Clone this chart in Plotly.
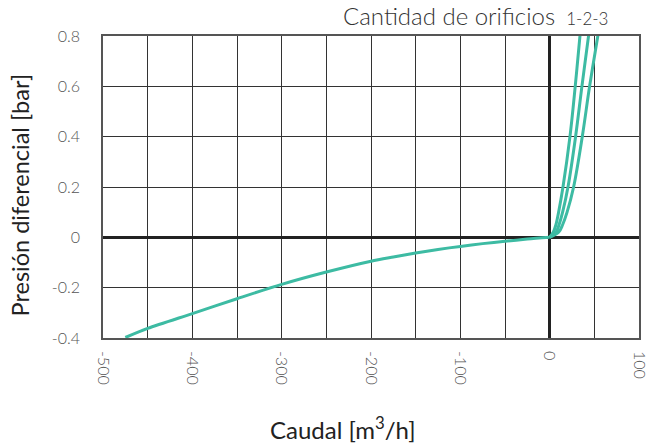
import plotly.graph_objects as go

# Negative flow branch
neg_x = [-475, -450, -400, -350, -300, -250, -200, -175, -150, -125, -100, -75, -50, -25, 0]
neg_y = [-0.398, -0.362, -0.303, -0.244, -0.187, -0.138, -0.095, -0.078, -0.062, -0.048, -0.036, -0.025, -0.016, -0.007, 0.0]

# Positive branches, 1, 2 and 3 orifices
pos_y = [0.0, 0.02, 0.05, 0.1, 0.2, 0.4, 0.6, 0.8, 0.9]
pos_x1 = [0, 4, 7, 10, 14.9, 22.7, 28.6, 33.9, 36.5]
pos_x2 = [0, 7, 10.5, 14.5, 20.5, 29.0, 36.1, 43.5, 47.0]
pos_x3 = [0, 10, 14.5, 19.5, 26.8, 36.5, 44.7, 53.9, 58.0]

x_tickvals = [-500, -450, -400, -350, -300, -250, -200, -150, -100, -50, 0, 50, 100]
x_ticktext = ["-500", "", "-400", "", "-300", "", "-200", "", "-100", "", "0", "", "100"]
y_tickvals = [-0.4, -0.2, 0, 0.2, 0.4, 0.6, 0.8]
y_ticktext = ["-0.4", "-0.2", "0", "0.2", "0.4", "0.6", "0.8"]

teal = "#3dbba3"
fig = go.Figure()
fig.add_trace(go.Scatter(x=neg_x, y=neg_y, mode="lines", line=dict(color=teal, width=3, shape="spline", smoothing=0.8), hoverinfo="skip"))
for px in (pos_x1, pos_x2, pos_x3):
    fig.add_trace(go.Scatter(x=px, y=pos_y, mode="lines", line=dict(color=teal, width=3, shape="spline"), hoverinfo="skip"))

font_family = "Lato, 'Open Sans', sans-serif"
tickfont = dict(size=16, color="#555", family=font_family, weight=300)
fig.update_layout(
    width=649, height=445,
    margin=dict(l=103, r=10, t=36, b=107),
    plot_bgcolor="white", paper_bgcolor="white",
    showlegend=False,
    font=dict(family=font_family, color="#333"),
    xaxis=dict(
        range=[-500, 100], tickvals=x_tickvals, ticktext=x_ticktext,
        tickangle=90, tickfont=tickfont, automargin=False, ticklabelstandoff=8,
        ticklabeloverflow="allow",
        showgrid=True, gridcolor="#333", gridwidth=1,
        zeroline=True, zerolinecolor="#222", zerolinewidth=3,
        showline=True, linecolor="#555", linewidth=1.5, mirror=True,
        ticks="", ticklen=0,
    ),
    yaxis=dict(
        range=[-0.4, 0.8], tickvals=y_tickvals, ticktext=y_ticktext,
        tickfont=tickfont, automargin=False, ticklabelstandoff=18,
        ticklabeloverflow="allow",
        showgrid=True, gridcolor="#333", gridwidth=1,
        zeroline=True, zerolinecolor="#222", zerolinewidth=3,
        showline=True, linecolor="#555", linewidth=1.5, mirror=True,
        ticks="", ticklen=0,
    ),
)

fig.add_annotation(
    text="Presión diferencial [bar]", xref="paper", yref="paper",
    x=-0.155, y=0.475, textangle=-90, showarrow=False,
    font=dict(size=23.5, color="#222", family=font_family),
    xanchor="center", yanchor="middle",
)
fig.add_annotation(
    text="Caudal [m<sup>3</sup>/h]", xref="paper", yref="paper",
    x=0.448, y=-0.298, showarrow=False,
    font=dict(size=24, color="#222", family=font_family),
    xanchor="center", yanchor="middle",
)
fig.add_annotation(
    text="Cantidad de orificios <span style='font-size:17px'> 1-2-3</span>", xref="paper", yref="paper",
    x=0.946, y=1.013, showarrow=False, xanchor="right", yanchor="bottom",
    font=dict(size=24, color="#333", family=font_family, weight=300),
)

# remove the default page margin so the 649x445 figure fills the window exactly
fig.write_html(
    "out.html",
    config={"displayModeBar": False},
    post_script="document.body.style.margin='0';document.body.style.overflow='hidden';",
)
